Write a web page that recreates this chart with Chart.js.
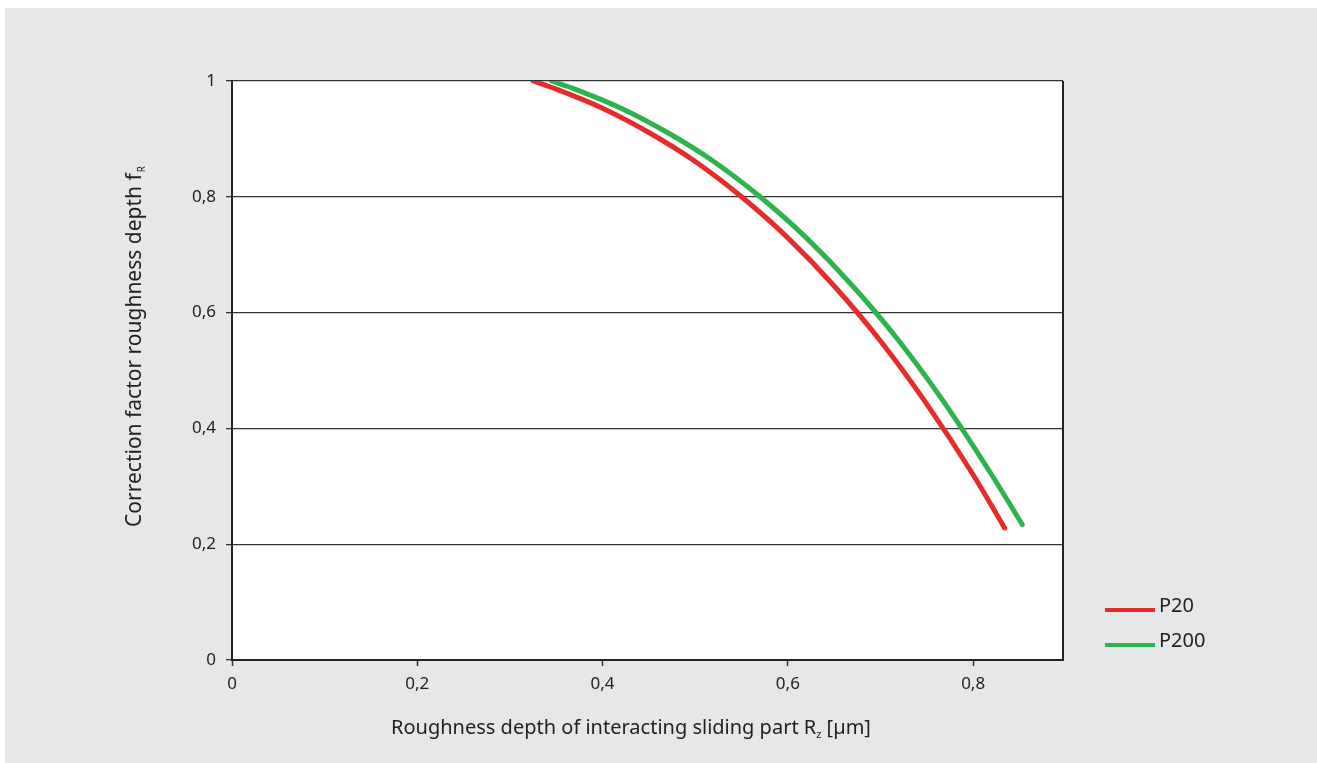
<!DOCTYPE html>
<html>
<head>
<meta charset="utf-8">
<script src="https://cdn.jsdelivr.net/npm/chart.js@4/dist/chart.umd.min.js"></script>
<style>
  html, body { margin: 0; padding: 0; background: #fff; }
  canvas { display: block; }
</style>
</head>
<body>
<canvas id="chart" width="1317" height="763"></canvas>
<script>
const xTicks = [0, 0.2, 0.4, 0.6, 0.8];
const yTicks = [0, 0.2, 0.4, 0.6, 0.8, 1];

const seriesNames = ['P20', 'P200'];
const p20X = [0.325, 0.35, 0.40, 0.45, 0.50, 0.55, 0.60, 0.65, 0.70, 0.75, 0.80, 0.834];
const p20Y = [1.0, 0.986, 0.953, 0.911, 0.861, 0.800, 0.729, 0.646, 0.551, 0.442, 0.320, 0.228];
const p200X = [0.345, 0.37, 0.42, 0.47, 0.52, 0.57, 0.62, 0.67, 0.72, 0.77, 0.82, 0.853];
const p200Y = [1.0, 0.986, 0.953, 0.911, 0.861, 0.800, 0.729, 0.646, 0.551, 0.442, 0.320, 0.234];

const RED = '#e52b2b';
const GREEN = '#2db34e';
const FONT = '"Noto Sans", sans-serif';

const fmt = v => String(Math.round(v * 10) / 10).replace('.', ',');
const pts = (xs, ys) => xs.map((x, i) => ({ x: x, y: ys[i] }));

// grey panel + white plot area
const panelBg = {
    id: 'panelBg',
    beforeDraw(chart) {
        const { ctx, chartArea: a } = chart;
        ctx.save();
        ctx.fillStyle = '#fff';
        ctx.fillRect(0, 0, chart.width, chart.height);
        ctx.fillStyle = '#e6e7e9';
        ctx.fillRect(5, 8, chart.width - 5, chart.height - 8);
        ctx.fillStyle = '#fff';
        ctx.fillRect(a.left, a.top, a.right - a.left, a.bottom - a.top);
        ctx.restore();
    }
};

// right frame line, axis titles with subscripts, legend
const extras = {
    id: 'extras',
    afterDraw(chart) {
        const { ctx, chartArea: a } = chart;
        ctx.save();
        ctx.strokeStyle = '#222';
        ctx.lineWidth = 2;
        ctx.beginPath();
        ctx.moveTo(a.right, a.top);
        ctx.lineTo(a.right, a.bottom);
        ctx.stroke();

        ctx.fillStyle = '#222';
        ctx.textBaseline = 'alphabetic';
        ctx.textAlign = 'left';

        // x title
        const xa = 'Roughness depth of interacting sliding part R';
        const xb = ' [µm]';
        ctx.font = '20px ' + FONT;
        const wa = ctx.measureText(xa).width;
        const wb = ctx.measureText(xb).width;
        ctx.font = '11px ' + FONT;
        const wz = ctx.measureText('z').width;
        const x0 = 631 - (wa + wz + wb) / 2;
        const yb = 734;
        ctx.font = '20px ' + FONT;
        ctx.fillText(xa, x0, yb);
        ctx.font = '11px ' + FONT;
        ctx.fillText('z', x0 + wa, yb + 4);
        ctx.font = '20px ' + FONT;
        ctx.fillText(xb, x0 + wa + wz, yb);

        // y title (rotated)
        ctx.translate(141, 347);
        ctx.rotate(-Math.PI / 2);
        const ya = 'Correction factor roughness depth f';
        ctx.font = '21px ' + FONT;
        const wy = ctx.measureText(ya).width;
        ctx.font = '10px ' + FONT;
        const wr = ctx.measureText('R').width;
        const ys = -(wy + wr) / 2;
        ctx.font = '21px ' + FONT;
        ctx.fillText(ya, ys, 0);
        ctx.font = '10px ' + FONT;
        ctx.fillText('R', ys + wy + 1, 4);
        ctx.restore();

        // legend
        ctx.save();
        const colors = [RED, GREEN];
        const rows = [606, 641];
        ctx.font = '20px ' + FONT;
        ctx.textBaseline = 'middle';
        ctx.textAlign = 'left';
        seriesNames.forEach((name, i) => {
            ctx.strokeStyle = colors[i];
            ctx.lineWidth = 4;
            ctx.beginPath();
            ctx.moveTo(1105, rows[i] + 4);
            ctx.lineTo(1155, rows[i] + 4);
            ctx.stroke();
            ctx.fillStyle = '#222';
            ctx.fillText(name, 1159, rows[i]);
        });
        ctx.restore();
    }
};

new Chart(document.getElementById('chart'), {
    type: 'line',
    data: {
        datasets: [
            {
                label: seriesNames[0],
                data: pts(p20X, p20Y),
                borderColor: RED,
                borderWidth: 5,
                borderCapStyle: 'round',
                pointRadius: 0,
                cubicInterpolationMode: 'monotone'
            },
            {
                label: seriesNames[1],
                data: pts(p200X, p200Y),
                borderColor: GREEN,
                borderWidth: 5,
                borderCapStyle: 'round',
                pointRadius: 0,
                cubicInterpolationMode: 'monotone'
            }
        ]
    },
    options: {
        responsive: false,
        animation: false,
        devicePixelRatio: 1,
        layout: { padding: { left: 0, right: 254, top: 81, bottom: 0 } },
        plugins: {
            legend: { display: false },
            tooltip: { enabled: false }
        },
        scales: {
            x: {
                type: 'linear',
                min: 0,
                max: 0.897,
                afterBuildTicks: s => { s.ticks = xTicks.map(v => ({ value: v })); },
                afterFit: s => { s.height = 103; },
                grid: { drawOnChartArea: false, tickLength: 6, tickColor: '#333', tickWidth: 1.5 },
                border: { color: '#222', width: 2 },
                ticks: {
                    callback: v => fmt(v),
                    color: '#222',
                    padding: 8,
                    maxRotation: 0,
                    font: { family: FONT, size: 17 }
                }
            },
            y: {
                min: 0,
                max: 1,
                afterBuildTicks: s => { s.ticks = yTicks.map(v => ({ value: v })); },
                afterFit: s => { s.width = 232; },
                grid: { color: '#333', lineWidth: 1.3, tickLength: 6, tickColor: '#333' },
                border: { color: '#222', width: 2 },
                ticks: {
                    callback: v => fmt(v),
                    color: '#222',
                    padding: 10,
                    font: { family: FONT, size: 17 }
                }
            }
        }
    },
    plugins: [panelBg, extras]
});
</script>
</body>
</html>
